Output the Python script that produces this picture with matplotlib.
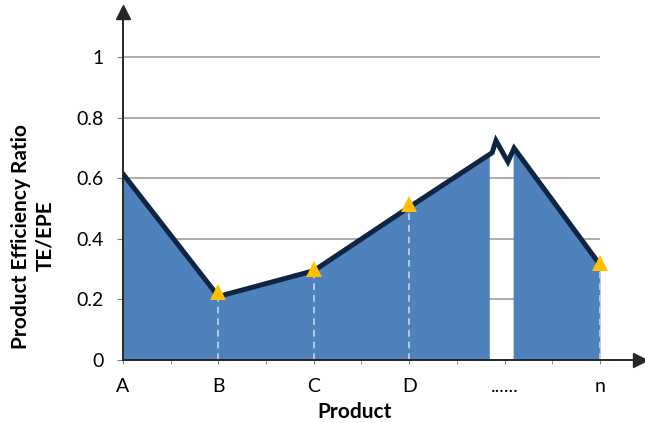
import numpy as np
import matplotlib.pyplot as plt

plt.rcParams['font.family'] = ['Lato', 'DejaVu Sans']

categories = ['A', 'B', 'C', 'D', '......', 'n']
# outline of the ratio curve, incl. the zigzag break before n
line_x = [0, 1, 2, 3, 3.87, 3.91, 4.035, 4.10, 5]
line_y = [0.615, 0.21, 0.295, 0.505, 0.685, 0.725, 0.655, 0.70, 0.315]
# highlighted products
marker_x = [1, 2, 3, 5]
marker_y = [0.225, 0.30, 0.515, 0.32]
gap = (3.84, 4.09)
yticks = [0, 0.2, 0.4, 0.6, 0.8, 1]

fill_col = '#4F81BD'
line_col = '#0F2541'

fig = plt.figure(figsize=(6.45, 4.23), dpi=100)
ax = fig.add_axes([123 / 645, 63 / 423, 517 / 645, 348 / 423])

x = np.array(line_x)
y = np.array(line_y)

# horizontal grid, only up to the last product
ax.hlines(yticks[1:], 0, 5, color='#a6a6a6', lw=1.3, zorder=0)

# area split in two around the break
left = x < gap[0]
xl = np.append(x[left], gap[0])
yl = np.append(y[left], np.interp(gap[0], x, y))
right = x > gap[1]
xr = np.insert(x[right], 0, gap[1])
yr = np.insert(y[right], 0, np.interp(gap[1], x, y))
ax.fill_between(xl, 0, yl, color=fill_col, lw=0, zorder=1)
ax.fill_between(xr, 0, yr, color=fill_col, lw=0, zorder=1)

ax.vlines(marker_x, 0, marker_y, colors='#c9d5e8', lw=1.2,
          linestyles=(0, (4, 3)), zorder=2)
ax.plot(x, y, color=line_col, lw=3.6, solid_joinstyle='miter', zorder=3)
ax.plot(marker_x, marker_y, '^', color='#FFC000', ms=12, mew=0, zorder=4)

ax.set_xlim(0, 5.42)
ax.set_ylim(0, 1.15)

for s in ['top', 'right']:
    ax.spines[s].set_visible(False)
for s in ['left', 'bottom']:
    ax.spines[s].set_color('#262626')
    ax.spines[s].set_linewidth(1.4)
    ax.spines[s].set_zorder(5)

# arrow heads
ax.plot(1, 0, '>', color='#262626', ms=10, transform=ax.transAxes, clip_on=False)
ax.plot(0, 1, '^', color='#262626', ms=10, transform=ax.transAxes, clip_on=False)

ax.set_yticks(yticks)
ax.set_yticklabels(['0', '0.2', '0.4', '0.6', '0.8', '1'])
ax.set_xticks(range(len(categories)))
ax.set_xticklabels(categories)
ax.set_xticks(np.arange(0.5, 5, 1), minor=True)
ax.tick_params(axis='y', length=4, color='#808080', pad=10, labelsize=14)
ax.tick_params(axis='x', which='both', length=3, color='#808080', pad=10, labelsize=14)

fig.text(33 / 645, 1 - 236 / 423, 'Product Efficiency Ratio\nTE/EPE', rotation=90,
         ha='center', va='center', ma='center', fontsize=15, fontweight='bold',
         linespacing=1.3)
fig.text(355 / 645, 1 - 412 / 423, 'Product', ha='center', va='center',
         fontsize=15, fontweight='bold')

fig.savefig('out.png', dpi=100)
